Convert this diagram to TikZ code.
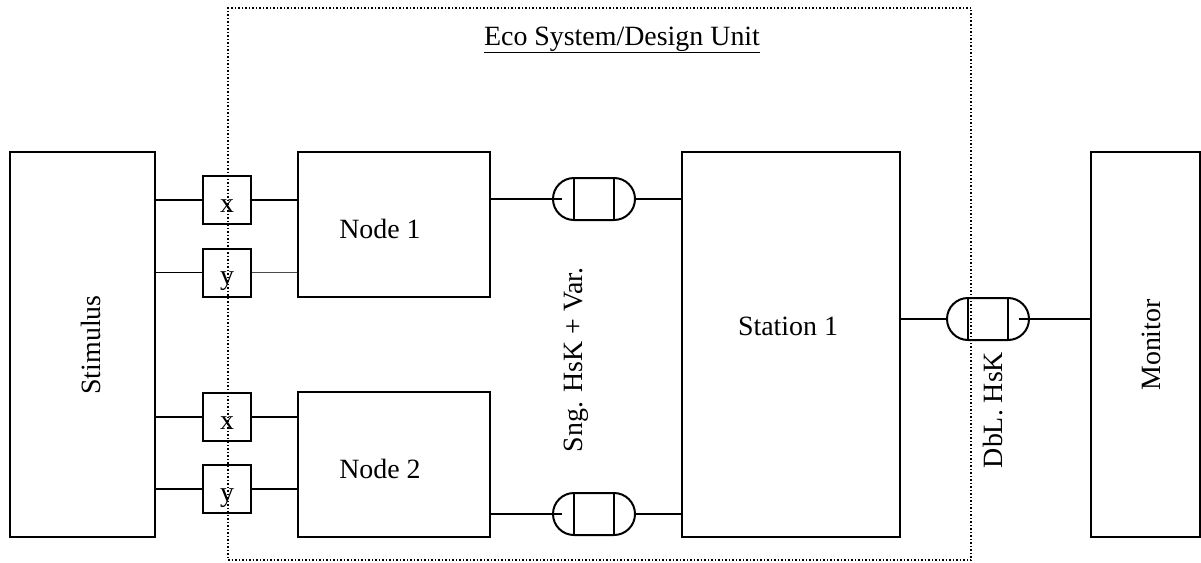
\documentclass[tikz,border=0pt]{standalone}
\usepackage{fontspec}
\setmainfont{Liberation Serif}
\usetikzlibrary{positioning, calc, shapes.misc}
\tikzset{
  blockbox/.style={draw, line width=2pt, inner sep=0pt},
  portbox/.style={draw, line width=2pt, inner sep=0pt, minimum width=48pt, minimum height=48pt,
    font=\fontsize{27.9}{33}\selectfont, text height=24pt, text depth=0pt},
  capsule/.style={draw, rounded rectangle, line width=2pt, inner sep=0pt, minimum width=82pt, minimum height=42pt,
    path picture={\draw[line width=2pt] ([xshift=-20pt]path picture bounding box.north) -- ([xshift=-20pt]path picture bounding box.south)
      ([xshift=20pt]path picture bounding box.north) -- ([xshift=20pt]path picture bounding box.south);}},
  wire/.style={line width=1.6pt},
  thinwire/.style={line width=0.9pt, black!70},
  sysframe/.style={draw, dotted, line width=1.5pt, inner sep=0pt},
  lbl/.style={font=\fontsize{27.9}{33}\selectfont, inner sep=0pt},
}

\begin{document}
\begin{tikzpicture}[x=1pt, y=-1pt]
        \useasboundingbox (0,0) rectangle (1201,562);
        % design unit frame
        \node[sysframe, minimum width=743pt, minimum height=552pt] (eco) at (599.5,284) {};
        \node[lbl, anchor=base] (ecolbl) at (622,45) {\underline{Eco System/Design Unit}};
        % blocks
        \node[blockbox, minimum width=145pt, minimum height=385pt] (stim) at (82.5,344.5) {};
        \node[blockbox, minimum width=192pt, minimum height=145pt] (n1) at (394,224.5) {};
        \node[blockbox, minimum width=192pt, minimum height=145pt] (n2) at (394,464.5) {};
        \node[blockbox, minimum width=218pt, minimum height=385pt] (st) at (791,344.5) {};
        \node[blockbox, minimum width=109pt, minimum height=385pt] (mon) at (1145.5,344.5) {};
        \node[lbl, rotate=90, anchor=base] (stimlbl) at (100,345) {Stimulus};
        \node[lbl, anchor=base] (n1lbl) at (380,238) {Node 1};
        \node[lbl, anchor=base] (n2lbl) at (380,478) {Node 2};
        \node[lbl, anchor=base] (stlbl) at (788,335) {Station 1};
        \node[lbl, rotate=90, anchor=base] (monlbl) at (1160,345) {Monitor};
        % ports
        \node[portbox] (x1) at (227,200) {x};
        \node[portbox] (y1) at (227,272.5) {y};
        \node[portbox] (x2) at (227,417) {x};
        \node[portbox] (y2) at (227,489) {y};
        \draw[wire] (stim.east |- x1) -- (x1.west);
        \draw[wire] (x1.east) -- (n1.west |- x1);
        \draw[wire] (stim.east |- y1) -- (y1.west);
        \draw[thinwire] (y1.east) -- (n1.west |- y1);
        \draw[wire] (stim.east |- x2) -- (x2.west);
        \draw[wire] (x2.east) -- (n2.west |- x2);
        \draw[wire] (stim.east |- y2) -- (y2.west);
        \draw[wire] (y2.east) -- (n2.west |- y2);
        % handshakes
        \node[capsule] (c1) at (594,199) {};
        \node[capsule] (c2) at (594,514) {};
        \node[capsule] (c3) at (988,319) {};
        \draw[wire] (n1.east |- c1) -- ($(c1.west)+(10,0)$);
        \draw[wire] (c1.east) -- (st.west |- c1);
        \draw[wire] (n2.east |- c2) -- ($(c2.west)+(10,0)$);
        \draw[wire] (c2.east) -- (st.west |- c2);
        \draw[wire] (st.east |- c3) -- (c3.west);
        \draw[wire] ($(c3.east)+(-11,0)$) -- (mon.west |- c3);
        \node[lbl, rotate=90, anchor=base] (snglbl) at (582,360) {Sng. HsK + Var.};
        \node[lbl, rotate=90, anchor=base] (dbllbl) at (1002,410) {DbL. HsK};
      \end{tikzpicture}
\end{document}
